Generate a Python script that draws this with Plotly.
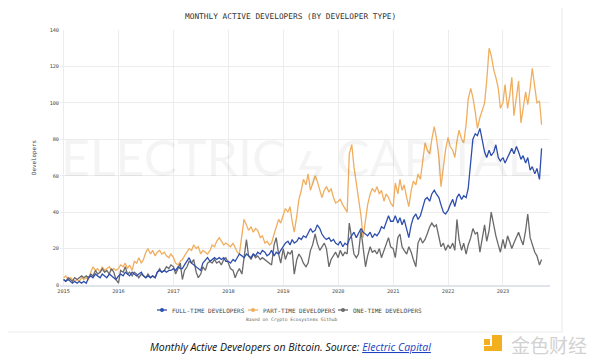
import pandas as pd
import plotly.graph_objects as go

# ---- data (semi-monthly readings, Jan 2015 .. Sep 2023) ----
part_2015 = [4,5,3,4,3,2,3,2,4,3,4,3,7,10,8,9,7,10,8,9,10,8,9,8]
part_2016 = [9,11,10,12,9,11,8,13,12,15,12,14,18,20,17,19,16,18,19,17,18,16,15,17]
part_2017 = [15,12,11,13,14,16,18,20,19,22,20,21,17,19,18,17,19,22,21,24,26,24,22,23]
part_2018 = [22,21,23,20,18,17,26,36,33,30,32,29,31,30,26,27,23,24,22,23,28,32,36,34]
part_2019 = [39,42,40,43,35,29,38,47,52,58,55,61,52,56,60,57,52,48,52,54,51,53,48,45]
part_2020 = [46,47,44,42,40,72,77,65,56,48,38,26,36,44,50,53,51,54,50,52,46,50,48,45]
part_2021 = [43,56,50,58,52,55,48,43,52,57,55,61,58,68,78,74,72,80,87,81,70,54,66,74]
part_2022 = [81,76,74,70,79,85,80,78,88,102,108,103,95,86,92,96,100,112,130,126,118,114,108,97]
part_2023 = [100,110,97,104,114,93,102,112,89,98,106,99,108,119,108,100,101,88]

full_2015 = [3,2,3,2,1,2,1,2,1,2,1,4,5,4,6,5,4,6,5,4,6,5,4,3]
full_2016 = [5,6,5,7,6,5,7,6,5,6,7,5,4,5,4,5,4,7,8,7,8,7,8,8]
full_2017 = [9,8,10,9,9,11,13,15,12,11,10,9,8,12,14,15,13,14,15,14,15,14,15,13]
full_2018 = [13,12,14,13,15,17,16,15,17,16,15,17,16,18,17,19,18,16,17,19,16,18,17,19]
full_2019 = [21,23,24,22,25,23,24,26,25,27,26,28,31,29,30,33,31,28,26,25,26,24,25,23]
full_2020 = [22,24,21,23,22,25,27,29,26,28,31,29,28,27,29,26,28,27,29,32,31,34,38,35]
full_2021 = [35,38,34,37,33,36,30,26,33,37,39,36,38,42,47,48,46,50,52,50,48,44,40,39]
full_2022 = [41,44,47,43,48,50,47,49,48,53,70,80,83,82,86,80,73,70,74,71,73,77,70,68]
full_2023 = [70,67,70,73,75,72,76,73,69,71,67,70,63,65,61,64,58,75]

one_2015 = [3,2,4,3,2,4,3,4,5,4,5,4,6,5,8,6,7,9,7,8,6,9,7,3]
one_2016 = [1,8,7,10,6,7,5,7,6,4,6,5,4,6,4,5,4,7,9,7,8,10,9,11]
one_2017 = [10,6,9,12,3,8,10,13,12,14,7,4,6,10,8,12,13,12,14,12,13,11,14,15]
one_2018 = [12,9,8,4,7,9,6,14,25,16,14,17,15,16,14,15,14,13,12,11,22,26,17,12]
one_2019 = [20,14,18,17,19,6,14,17,15,12,10,12,19,22,28,23,19,21,23,20,10,14,16,18]
one_2020 = [15,19,16,18,17,34,25,17,15,17,30,22,10,16,21,18,19,17,20,15,19,22,26,21]
one_2021 = [20,15,26,28,21,19,17,21,18,14,10,23,26,23,25,28,32,34,32,33,26,21,23,19]
one_2022 = [22,20,23,19,36,25,19,23,17,22,26,31,28,29,18,26,33,24,30,40,32,27,22,18]
one_2023 = [25,20,27,24,20,23,26,29,25,22,30,39,26,22,18,16,11,14]

part_time = part_2015 + part_2016 + part_2017 + part_2018 + part_2019 + part_2020 + part_2021 + part_2022 + part_2023
full_time = full_2015 + full_2016 + full_2017 + full_2018 + full_2019 + full_2020 + full_2021 + full_2022 + full_2023
one_time = one_2015 + one_2016 + one_2017 + one_2018 + one_2019 + one_2020 + one_2021 + one_2022 + one_2023

dates = pd.date_range("2015-01-01", periods=len(full_time), freq="SMS")

series_names = ["FULL-TIME DEVELOPERS", "PART-TIME DEVELOPERS", "ONE-TIME DEVELOPERS"]
series_colors = ["#2f4fae", "#f0ae5e", "#6a6a6a"]
y_ticks = [0, 20, 40, 60, 80, 100, 120, 140]

# ---- layout helpers (target page pixel -> paper); page body has an 8px margin ----
OFF = 8
W, H = 600, 362
L, T, PW, PH = 60 - OFF, 30 - OFF, 490, 255
R, B = W - L - PW, H - T - PH
def X(px):
    return (px - OFF - L) / PW
def Y(py):
    return (T + PH - (py - OFF)) / PH

MONO = "DejaVu Sans Mono"

fig = go.Figure()
order = [1, 2, 0]
data_by_idx = [full_time, part_time, one_time]
for i in order:
    fig.add_trace(go.Scatter(
        x=dates, y=data_by_idx[i], mode="lines", name=series_names[i],
        line=dict(color=series_colors[i], width=1.3), showlegend=False,
        hoverinfo="skip"))

fig.update_layout(
    width=W, height=H,
    margin=dict(l=L, r=R, t=T, b=B),
    paper_bgcolor="white", plot_bgcolor="white",
    font=dict(family=MONO, color="#444"),
    showlegend=False,
    xaxis=dict(type="date", range=["2014-12-08", "2023-11-10"],
               tick0="2015-01-01", dtick="M12", tickformat="%Y",
               showgrid=True, gridcolor="#ececec", gridwidth=1,
               showline=True, linecolor="#dfe4ea", linewidth=2,
               ticks="", tickfont=dict(family=MONO, size=5.2, color="#444"),
               zeroline=False),
    yaxis=dict(range=[0, 140], tickvals=y_ticks,
               showgrid=True, gridcolor="#ececec", gridwidth=1,
               zeroline=False, showline=False, ticks="",
               tickfont=dict(family=MONO, size=5.2, color="#444"),
               title=dict(text="Developers", standoff=12,
                          font=dict(family=MONO, size=5.8, color="#444"))),
)

def ann(text, px, py, size, color, family=MONO, xanchor="center"):
    return dict(text=text, x=X(px), y=Y(py), xref="paper", yref="paper",
                xanchor=xanchor, yanchor="middle", showarrow=False,
                font=dict(family=family, size=size, color=color))

annotations = [
    ann("ELECTRIC ϟ CAPITAL", 297, 157, 50, "rgba(0,0,0,0.045)", family="Lato"),
    ann("MONTHLY ACTIVE DEVELOPERS (BY DEVELOPER TYPE)", 290, 17, 7.8, "#333"),
    ann("Based on Crypto Ecosystems Github", 292, 319, 4.6, "#666"),
    ann("<i>Monthly Active Developers on Bitcoin. Source: </i>"
        "<i><span style='color:#1f3fc4;text-decoration:underline'>Electric Capital</span></i>",
        290, 347, 10.5, "#111", family="Open Sans"),
    ann("金色财经", 509, 344, 19, "#d2d2d2", family="Noto Sans CJK SC", xanchor="left"),
]

shapes = [
    dict(type="line", xref="paper", yref="paper", x0=X(562), x1=X(562), y0=Y(0), y1=Y(332),
         line=dict(color="#e8e8e8", width=1)),
    dict(type="line", xref="paper", yref="paper", x0=X(0), x1=X(562), y0=Y(332), y1=Y(332),
         line=dict(color="#ececec", width=1)),
    # logo blocks
    dict(type="rect", xref="paper", yref="paper", x0=X(484), x1=X(490), y0=Y(345), y1=Y(339),
         fillcolor="#f2b01e", line=dict(width=0)),
    dict(type="rect", xref="paper", yref="paper", x0=X(492), x1=X(502), y0=Y(351), y1=Y(335),
         fillcolor="#f2b01e", line=dict(width=0)),
    dict(type="rect", xref="paper", yref="paper", x0=X(484), x1=X(502), y0=Y(351), y1=Y(346),
         fillcolor="#f2b01e", line=dict(width=0)),
]

# legend (drawn manually to match the compact marker-line-text layout)
legend_symbol_x = [162, 253, 343]
legend_y = 310
for name, color, sx in zip(series_names, series_colors, legend_symbol_x):
    shapes.append(dict(type="line", xref="paper", yref="paper",
                       x0=X(sx - 5), x1=X(sx + 5), y0=Y(legend_y), y1=Y(legend_y),
                       line=dict(color=color, width=1.3)))
    shapes.append(dict(type="circle", xref="paper", yref="paper",
                       x0=X(sx - 2), x1=X(sx + 2), y0=Y(legend_y - 2), y1=Y(legend_y + 2),
                       fillcolor=color, line=dict(color=color, width=0)))
    annotations.append(ann(name, sx + 8, legend_y, 6, "#444", xanchor="left"))

fig.update_layout(annotations=annotations, shapes=shapes)

fig.write_html("out.html")
